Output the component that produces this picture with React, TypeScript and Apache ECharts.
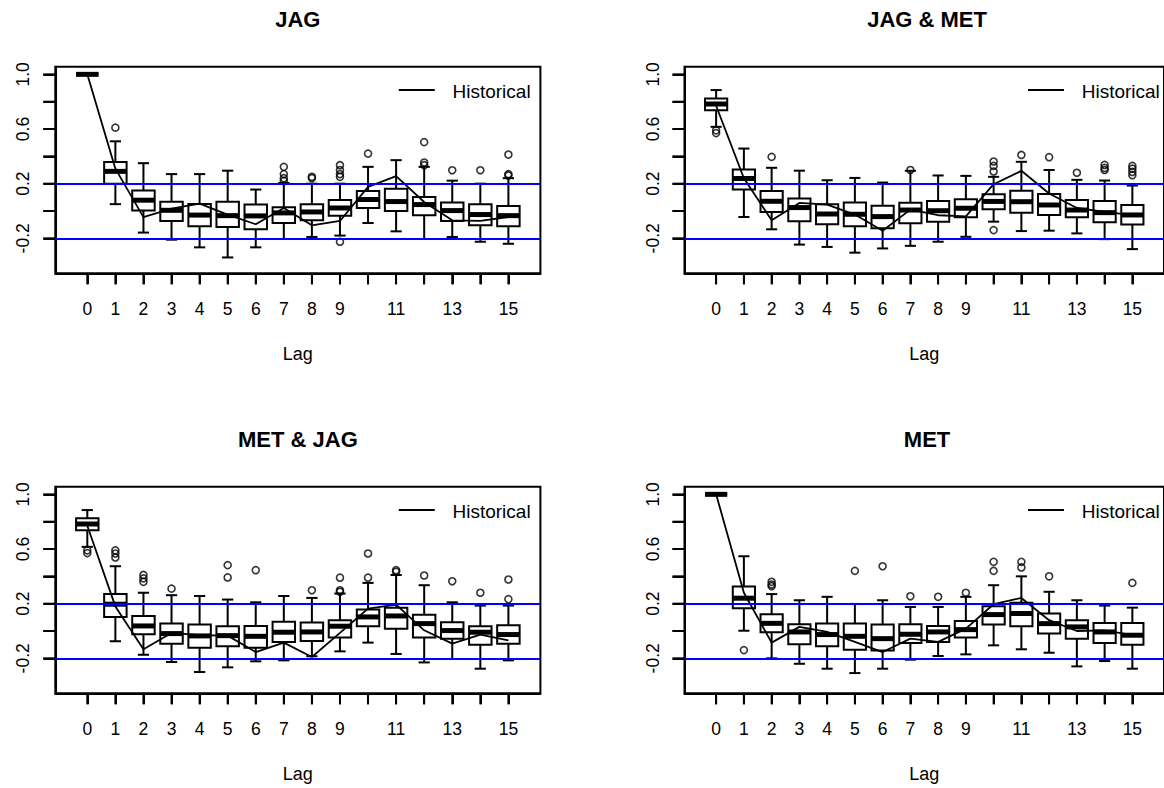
import React, { useEffect, useRef } from 'react';
import * as echarts from 'echarts';

const FONT = '"Liberation Sans", Arial, Helvetica, sans-serif';

const lags = [0, 1, 2, 3, 4, 5, 6, 7, 8, 9, 10, 11, 12, 13, 14, 15];
const xLabelValues = [0, 1, 2, 3, 4, 5, 6, 7, 8, 9, 11, 13, 15];
const yTickValues = [-0.2, 0, 0.2, 0.4, 0.6, 0.8, 1.0];
const yLabelValues = [-0.2, 0.2, 0.6, 1.0];
const confBound = 0.196;
const titles = ['JAG', 'JAG & MET', 'MET & JAG', 'MET'];

// JAG
const jagLow = [1.0, 0.05, -0.158, -0.21, -0.266, -0.34, -0.266, -0.205, -0.19, -0.18, -0.088, -0.149, -0.205, -0.19, -0.225, -0.24];
const jagQ1 = [1.0, 0.2, 0.003, -0.073, -0.112, -0.117, -0.134, -0.088, -0.068, -0.034, 0.022, 0.0, -0.031, -0.073, -0.105, -0.112];
const jagMed = [1.0, 0.29, 0.079, 0.005, -0.03, -0.034, -0.036, -0.014, -0.007, 0.022, 0.084, 0.069, 0.047, 0.003, -0.026, -0.034];
const jagQ3 = [1.0, 0.358, 0.15, 0.067, 0.052, 0.067, 0.047, 0.027, 0.05, 0.081, 0.147, 0.162, 0.103, 0.062, 0.05, 0.037];
const jagHigh = [1.0, 0.51, 0.35, 0.27, 0.27, 0.295, 0.157, 0.205, 0.2, 0.2, 0.323, 0.372, 0.323, 0.222, 0.2, 0.24];
const jagHist = [1.0, 0.31, -0.045, 0.017, 0.054, -0.026, -0.097, 0.022, -0.105, -0.073, 0.176, 0.255, 0.066, -0.068, -0.073, -0.044];
const jagOutliers = [
  [1, 0.61], [7, 0.323], [7, 0.27], [7, 0.24], [7, 0.22], [8, 0.25], [8, 0.24],
  [9, 0.335], [9, 0.3], [9, 0.27], [9, 0.25], [9, -0.225], [10, 0.42],
  [12, 0.504], [12, 0.355], [12, 0.335], [13, 0.298], [14, 0.298],
  [15, 0.413], [15, 0.27], [15, 0.26],
];

// JAG & MET
const jmLow = [0.616, -0.044, -0.134, -0.246, -0.263, -0.305, -0.274, -0.255, -0.225, -0.189, -0.078, -0.147, -0.144, -0.164, -0.206, -0.279];
const jmQ1 = [0.738, 0.157, -0.007, -0.075, -0.097, -0.112, -0.127, -0.09, -0.078, -0.046, 0.012, -0.012, -0.029, -0.046, -0.083, -0.098];
const jmMed = [0.783, 0.238, 0.071, 0.025, -0.022, -0.024, -0.041, 0.007, 0.002, 0.02, 0.07, 0.068, 0.044, 0.007, -0.012, -0.029];
const jmQ3 = [0.824, 0.304, 0.147, 0.091, 0.049, 0.062, 0.039, 0.061, 0.073, 0.086, 0.122, 0.149, 0.125, 0.081, 0.073, 0.044];
const jmHigh = [0.885, 0.457, 0.316, 0.295, 0.225, 0.242, 0.208, 0.294, 0.26, 0.257, 0.25, 0.36, 0.3, 0.228, 0.223, 0.186];
const jmHist = [0.77, 0.24, -0.068, 0.059, 0.047, -0.026, -0.145, 0.01, -0.031, -0.039, 0.196, 0.294, 0.128, 0.022, -0.007, -0.03];
const jmOutliers = [
  [0, 0.59], [0, 0.57], [2, 0.396], [7, 0.3], [10, 0.362], [10, 0.33], [10, 0.289], [10, -0.14],
  [11, 0.41], [12, 0.394], [13, 0.28], [14, 0.337], [14, 0.315], [14, 0.3],
  [15, 0.33], [15, 0.31], [15, 0.286], [15, 0.262],
];

// MET & JAG
const mjLow = [0.616, -0.075, -0.174, -0.227, -0.3, -0.266, -0.222, -0.215, -0.185, -0.149, -0.085, -0.168, -0.23, -0.205, -0.276, -0.215];
const mjQ1 = [0.738, 0.103, -0.024, -0.093, -0.122, -0.112, -0.122, -0.08, -0.073, -0.048, 0.034, 0.017, -0.048, -0.056, -0.1, -0.093];
const mjMed = [0.783, 0.196, 0.037, -0.019, -0.036, -0.034, -0.039, -0.009, -0.007, 0.035, 0.103, 0.11, 0.054, 0.003, -0.009, -0.026];
const mjQ3 = [0.826, 0.27, 0.11, 0.054, 0.047, 0.035, 0.037, 0.067, 0.062, 0.079, 0.157, 0.171, 0.118, 0.064, 0.035, 0.042];
const mjHigh = [0.885, 0.474, 0.28, 0.262, 0.256, 0.23, 0.21, 0.256, 0.242, 0.274, 0.352, 0.41, 0.335, 0.21, 0.186, 0.186];
const mjHist = [0.77, 0.18, -0.134, -0.014, -0.031, -0.034, -0.154, -0.085, -0.19, -0.014, 0.164, 0.193, 0.005, -0.092, -0.026, -0.068];
const mjOutliers = [
  [0, 0.59], [0, 0.57], [1, 0.59], [1, 0.567], [1, 0.538], [2, 0.41], [2, 0.385], [2, 0.36],
  [3, 0.31], [5, 0.482], [5, 0.392], [6, 0.445], [8, 0.298], [9, 0.39], [9, 0.298], [9, 0.287],
  [10, 0.567], [10, 0.39], [11, 0.445], [11, 0.433], [12, 0.406], [13, 0.364], [14, 0.28],
  [15, 0.377], [15, 0.233],
];

// MET
const metLow = [1.0, 0.002, -0.2, -0.24, -0.276, -0.308, -0.276, -0.21, -0.183, -0.171, -0.105, -0.134, -0.159, -0.259, -0.22, -0.276];
const metQ1 = [1.0, 0.166, -0.01, -0.097, -0.112, -0.137, -0.142, -0.088, -0.08, -0.048, 0.047, 0.035, -0.019, -0.056, -0.088, -0.1];
const metMed = [1.0, 0.24, 0.056, -0.007, -0.026, -0.039, -0.056, -0.024, -0.007, 0.01, 0.12, 0.128, 0.054, 0.03, -0.007, -0.031];
const metQ3 = [1.0, 0.325, 0.122, 0.049, 0.054, 0.054, 0.047, 0.049, 0.037, 0.074, 0.181, 0.206, 0.128, 0.079, 0.059, 0.059];
const metHigh = [1.0, 0.547, 0.27, 0.225, 0.25, 0.198, 0.225, 0.176, 0.176, 0.25, 0.335, 0.4, 0.287, 0.225, 0.186, 0.171];
const metHist = [1.0, 0.28, -0.085, 0.03, -0.007, -0.08, -0.154, -0.056, -0.08, 0.017, 0.196, 0.242, 0.079, 0.0, 0.005, -0.03];
const metOutliers = [
  [1, -0.14], [2, 0.36], [2, 0.34], [2, 0.328], [5, 0.44], [6, 0.474], [7, 0.254], [8, 0.25],
  [9, 0.28], [10, 0.506], [10, 0.44], [11, 0.506], [11, 0.465], [12, 0.4], [15, 0.352],
];

const panelData = [
  { low: jagLow, q1: jagQ1, med: jagMed, q3: jagQ3, high: jagHigh, hist: jagHist, out: jagOutliers },
  { low: jmLow, q1: jmQ1, med: jmMed, q3: jmQ3, high: jmHigh, hist: jmHist, out: jmOutliers },
  { low: mjLow, q1: mjQ1, med: mjMed, q3: mjQ3, high: mjHigh, hist: mjHist, out: mjOutliers },
  { low: metLow, q1: metQ1, med: metMed, q3: metQ3, high: metHigh, hist: metHist, out: metOutliers },
];

const X_MIN = -1.14;
const X_MAX = 16.14;
const Y_MIN = -0.456;
const Y_MAX = 1.056;
const PANEL_LEFTS = [55.3, 684.5, 55.3, 684.5];
const PANEL_TOPS = [66.7, 66.7, 486.7, 486.7];
const PANEL_W = 485.1;
const PANEL_H = 206.6;
const X_TICK_LEN = 11;
const Y_TICK_LEN = 12;

function renderBox(params: any, api: any) {
  const x = api.value(0);
  const lo = api.value(1);
  const q1 = api.value(2);
  const med = api.value(3);
  const q3 = api.value(4);
  const hi = api.value(5);
  const pLo = api.coord([x, lo]);
  const pQ1 = api.coord([x, q1]);
  const pMed = api.coord([x, med]);
  const pQ3 = api.coord([x, q3]);
  const pHi = api.coord([x, hi]);
  const w = api.size([0.8, 0])[0];
  const cx = pMed[0];
  const half = w / 2;
  const sh = w / 4;
  const st = { stroke: '#000', lineWidth: 2, fill: 'none' };
  const children: any[] = [];
  if (Math.abs(pHi[1] - pQ3[1]) > 0.5) {
    children.push({ type: 'line', shape: { x1: cx, y1: pQ3[1], x2: cx, y2: pHi[1] }, style: st });
    children.push({ type: 'line', shape: { x1: cx - sh, y1: pHi[1], x2: cx + sh, y2: pHi[1] }, style: st });
  }
  if (Math.abs(pLo[1] - pQ1[1]) > 0.5) {
    children.push({ type: 'line', shape: { x1: cx, y1: pQ1[1], x2: cx, y2: pLo[1] }, style: st });
    children.push({ type: 'line', shape: { x1: cx - sh, y1: pLo[1], x2: cx + sh, y2: pLo[1] }, style: st });
  }
  children.push({
    type: 'rect',
    shape: { x: cx - half, y: pQ3[1], width: w, height: pQ1[1] - pQ3[1] },
    style: st,
  });
  children.push({
    type: 'line',
    shape: { x1: cx - half, y1: pMed[1], x2: cx + half, y2: pMed[1] },
    style: { stroke: '#000', lineWidth: 5 },
  });
  return { type: 'group', children };
}

// Ticks drawn as small filled rectangles just outside the plot frame
function renderXTick(params: any, api: any) {
  const p = api.coord([api.value(0), Y_MIN]);
  return {
    type: 'rect',
    shape: { x: p[0] - 1, y: p[1], width: 2, height: X_TICK_LEN },
    style: { fill: '#000' },
  };
}

function renderYTick(params: any, api: any) {
  const p = api.coord([X_MIN, api.value(1)]);
  return {
    type: 'rect',
    shape: { x: p[0] - Y_TICK_LEN, y: p[1] - 1, width: Y_TICK_LEN, height: 2 },
    style: { fill: '#000' },
  };
}

export default function App() {
  const ref = useRef<HTMLDivElement>(null);

  useEffect(() => {
    if (!ref.current) return;
    const chart = echarts.init(ref.current, null, { renderer: 'svg' });

    const grid: any[] = [];
    const xAxis: any[] = [];
    const yAxis: any[] = [];
    const series: any[] = [];
    const title: any[] = [];
    const graphic: any[] = [];

    panelData.forEach((pd, i) => {
      const left = PANEL_LEFTS[i];
      const top = PANEL_TOPS[i];
      grid.push({
        left, top, width: PANEL_W, height: PANEL_H,
        show: true, borderColor: '#000', borderWidth: 2, backgroundColor: 'transparent',
      });
      xAxis.push({
        type: 'value', gridIndex: i, min: X_MIN, max: X_MAX, position: 'bottom',
        axisLine: { show: true, onZero: false, lineStyle: { color: '#000', width: 2 } },
        splitLine: { show: false },
        axisTick: { show: true, inside: false, customValues: lags, length: X_TICK_LEN, lineStyle: { color: '#000', width: 2 } },
        axisLabel: { show: true, customValues: xLabelValues, margin: 27, fontSize: 17.5, color: '#000', fontFamily: FONT },
        name: 'Lag', nameLocation: 'middle', nameGap: 72,
        nameTextStyle: { fontSize: 18, color: '#000', fontFamily: FONT },
      });
      yAxis.push({
        type: 'value', gridIndex: i, min: Y_MIN, max: Y_MAX, position: 'left',
        axisLine: { show: true, onZero: false, lineStyle: { color: '#000', width: 2 } },
        splitLine: { show: false },
        axisTick: { show: true, inside: false, customValues: yTickValues, length: Y_TICK_LEN, lineStyle: { color: '#000', width: 2 } },
        axisLabel: {
          show: true, customValues: yLabelValues, rotate: 90, margin: 23, fontSize: 17.5, color: '#000', fontFamily: FONT,
          formatter: (v: number) => v.toFixed(1),
        },
      });
      series.push({
        type: 'custom', xAxisIndex: i, yAxisIndex: i, z: 6, silent: true, clip: false,
        data: lags.map((l) => [l, 0]),
        encode: { x: 0, y: 1 },
        renderItem: renderXTick,
      });
      series.push({
        type: 'custom', xAxisIndex: i, yAxisIndex: i, z: 6, silent: true, clip: false,
        data: yTickValues.map((v) => [0, v]),
        encode: { x: 0, y: 1 },
        renderItem: renderYTick,
      });
      series.push({
        type: 'custom', xAxisIndex: i, yAxisIndex: i, z: 2, silent: true, clip: false,
        data: lags.map((l, k) => [l, pd.low[k], pd.q1[k], pd.med[k], pd.q3[k], pd.high[k]]),
        encode: { x: 0, y: [1, 2, 3, 4, 5] },
        renderItem: renderBox,
      });
      series.push({
        type: 'scatter', xAxisIndex: i, yAxisIndex: i, z: 3, silent: true,
        data: pd.out,
        symbol: 'circle', symbolSize: 7,
        itemStyle: { color: 'transparent', borderColor: '#000', borderWidth: 1.6 },
        markLine: {
          silent: true, symbol: ['none', 'none'], label: { show: false },
          lineStyle: { color: '#0000ff', width: 2, type: 'solid' },
          data: [{ yAxis: confBound }, { yAxis: -confBound }],
        },
      });
      series.push({
        type: 'line', name: 'Historical', xAxisIndex: i, yAxisIndex: i, z: 4, silent: true,
        data: lags.map((l, k) => [l, pd.hist[k]]),
        symbol: 'none', showSymbol: false,
        lineStyle: { color: '#000', width: 1.8 },
      });
      title.push({
        text: titles[i], left: left + PANEL_W / 2, top: i >= 2 ? 428 : 8, textAlign: 'center', padding: 0,
        textStyle: { fontSize: 22, fontWeight: 'bold', color: '#000', fontFamily: FONT },
      });
      graphic.push({
        type: 'line', silent: true,
        shape: { x1: left + 343.5, y1: top + 23.3, x2: left + 379.5, y2: top + 23.3 },
        style: { stroke: '#000', lineWidth: 2 },
      });
      graphic.push({
        type: 'text', silent: true, x: left + 397.2, y: top + 24.3,
        style: { text: 'Historical', fontSize: 19, fill: '#000', fontFamily: FONT, verticalAlign: 'middle', align: 'left' },
      });
    });

    chart.setOption({
      animation: false,
      backgroundColor: '#fff',
      title,
      grid,
      xAxis,
      yAxis,
      series,
      graphic,
    });

    return () => chart.dispose();
  }, []);

  return (
    <div
      ref={ref}
      style={{ position: 'absolute', left: 0, top: 0, width: 1164, height: 788, background: '#fff' }}
    />
  );
}
